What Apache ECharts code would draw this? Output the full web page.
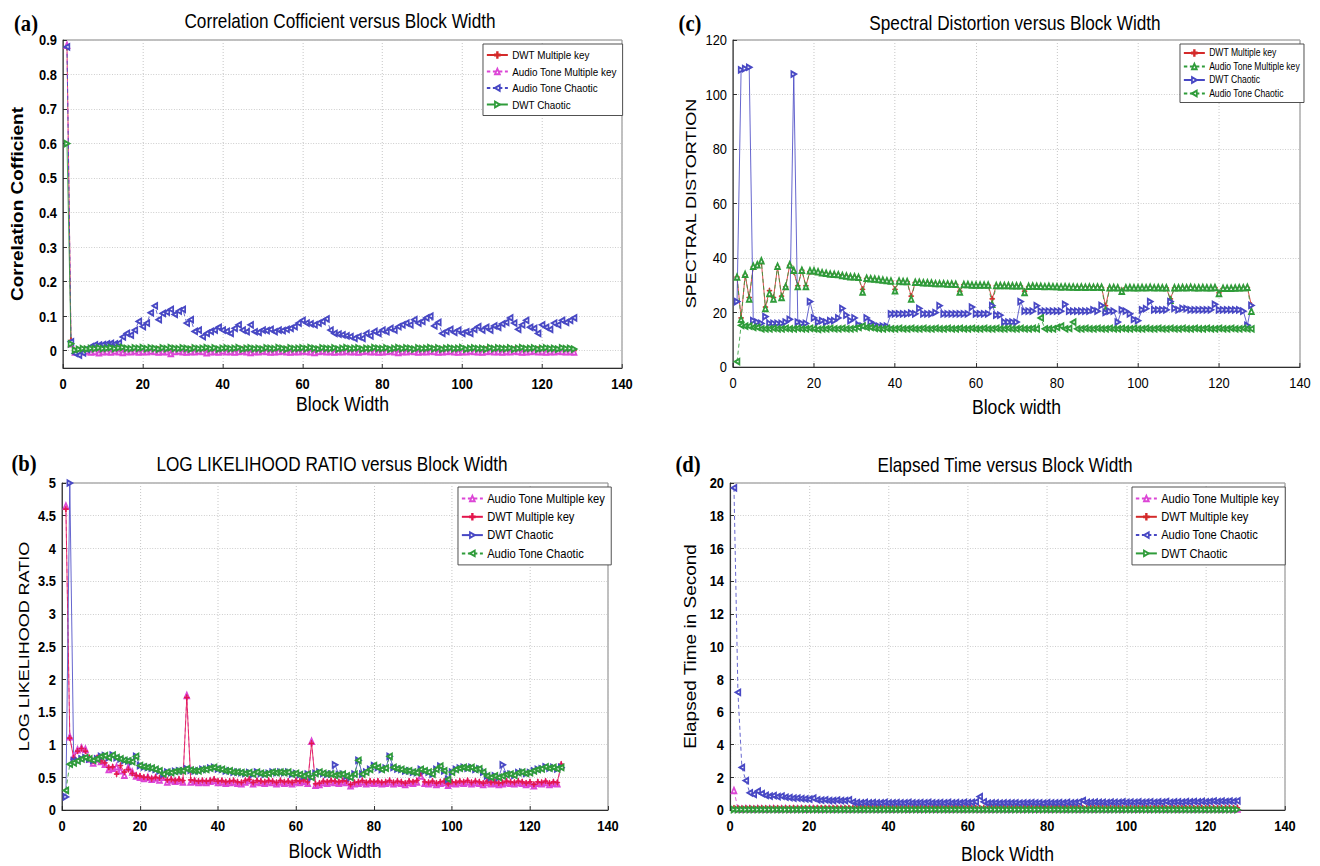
<!DOCTYPE html>
<html><head><meta charset="utf-8">
<script src="https://cdn.jsdelivr.net/npm/echarts@6/dist/echarts.min.js"></script>
<style>html,body{margin:0;padding:0;background:#fff;overflow:hidden;width:1320px;height:866px}
#c{width:1535px;height:866px;transform:scaleX(0.86);transform-origin:0 0}</style>
</head><body><div id="c"></div>
<script>
// ---------- categories / ticks ----------
const blockWidths = Array.from({length: 128}, (_, i) => i + 1);
const xTicks = [0, 20, 40, 60, 80, 100, 120, 140];
const yTicksA = [0, 0.1, 0.2, 0.3, 0.4, 0.5, 0.6, 0.7, 0.8, 0.9];

// ---------- (a) Correlation coefficient ----------
const corrDwtMultiKey = [0.88,0.03,0.000,0.002,0.003,0.001,0.004,0.002,0.003,0.001,
0.002,0.004,0.001,0.003,0.002,0.000,0.003,0.002,0.004,0.001,
0.002,0.003,0.001,0.004,0.002,0.000,0.003,0.002,0.001,0.003,
0.002,0.004,0.001,0.002,0.003,0.001,0.000,0.003,0.002,0.004,
0.001,0.002,0.003,0.001,0.004,0.002,0.000,0.003,0.001,0.002,
0.003,0.002,0.001,0.004,0.002,0.003,0.000,0.002,0.003,0.001,
0.004,0.002,0.001,0.003,0.002,0.000,0.003,0.004,0.001,0.002,
0.003,0.001,0.002,0.004,0.000,0.002,0.003,0.001,0.002,0.003,
0.004,0.001,0.002,0.000,0.003,0.002,0.004,0.001,0.002,0.003,
0.001,0.002,0.004,0.000,0.003,0.002,0.001,0.003,0.002,0.004,
0.001,0.003,0.002,0.000,0.002,0.004,0.001,0.003,0.002,0.001,
0.003,0.002,0.004,0.000,0.002,0.003,0.001,0.002,0.004,0.002,
0.001,0.003,0.002,0.000,0.003,0.002,0.001,0.000];
const corrAudioMultiKey = [0.885,0.02,-0.004,-0.002,-0.003,-0.001,-0.004,-0.002,-0.006,-0.003,
-0.002,-0.004,-0.001,-0.003,-0.005,-0.002,-0.003,-0.001,-0.004,-0.002,
-0.003,-0.001,-0.002,-0.004,-0.002,-0.003,-0.008,-0.002,-0.001,-0.003,
-0.004,-0.002,-0.003,-0.001,-0.002,-0.006,-0.003,-0.002,-0.004,-0.001,
-0.003,-0.002,-0.004,-0.002,-0.001,-0.003,-0.005,-0.002,-0.003,-0.001,
-0.002,-0.004,-0.003,-0.002,-0.001,-0.003,-0.004,-0.002,-0.003,-0.001,
-0.002,-0.003,-0.005,-0.002,-0.001,-0.003,-0.002,-0.004,-0.002,-0.003,
-0.001,-0.003,-0.002,-0.004,-0.002,-0.001,-0.003,-0.002,-0.004,-0.003,
-0.002,-0.001,-0.003,-0.005,-0.002,-0.003,-0.001,-0.002,-0.004,-0.002,
-0.003,-0.001,-0.002,-0.004,-0.003,-0.002,-0.001,-0.003,-0.004,-0.002,
-0.003,-0.001,-0.002,-0.003,-0.004,-0.002,-0.001,-0.003,-0.002,-0.004,
-0.002,-0.003,-0.001,-0.002,-0.004,-0.003,-0.002,-0.001,-0.003,-0.002,
-0.004,-0.002,-0.003,-0.001,-0.002,-0.003,-0.002,-0.004];
const corrAudioChaotic = [0.88,0.026,-0.008,-0.013,-0.006,0.004,0.012,0.017,0.016,0.018,
0.02,0.021,0.02,0.022,0.04,0.05,0.045,0.06,0.085,0.07,
0.08,0.11,0.13,0.09,0.108,0.112,0.12,0.105,0.115,0.12,
0.08,0.09,0.056,0.06,0.041,0.05,0.056,0.06,0.068,0.06,
0.056,0.05,0.065,0.075,0.06,0.055,0.075,0.055,0.053,0.06,
0.058,0.062,0.055,0.06,0.058,0.062,0.065,0.07,0.08,0.088,
0.08,0.078,0.075,0.08,0.085,0.092,0.06,0.05,0.048,0.046,
0.043,0.041,0.036,0.041,0.036,0.05,0.043,0.056,0.05,0.06,
0.055,0.065,0.06,0.07,0.075,0.08,0.075,0.09,0.08,0.085,
0.095,0.1,0.072,0.082,0.05,0.056,0.062,0.053,0.06,0.05,
0.055,0.05,0.062,0.07,0.06,0.068,0.06,0.072,0.068,0.078,
0.082,0.095,0.08,0.062,0.075,0.088,0.068,0.065,0.05,0.075,
0.068,0.062,0.08,0.075,0.088,0.082,0.088,0.095];
const corrDwtChaotic = [0.6,0.02,0.002,0.004,0.006,0.005,0.007,0.006,0.008,0.006,
0.007,0.009,0.006,0.008,0.01,0.007,0.006,0.008,0.007,0.009,
0.006,0.008,0.007,0.005,0.008,0.006,0.009,0.007,0.006,0.008,
0.007,0.005,0.008,0.006,0.007,0.009,0.006,0.008,0.005,0.007,
0.008,0.006,0.007,0.009,0.005,0.007,0.008,0.006,0.007,0.005,
0.008,0.007,0.006,0.009,0.007,0.005,0.008,0.006,0.007,0.008,
0.006,0.009,0.007,0.005,0.008,0.007,0.006,0.008,0.005,0.007,
0.009,0.006,0.007,0.008,0.005,0.007,0.006,0.009,0.007,0.006,
0.008,0.005,0.007,0.009,0.006,0.008,0.007,0.005,0.008,0.006,
0.007,0.009,0.006,0.008,0.005,0.007,0.008,0.006,0.007,0.009,
0.005,0.007,0.008,0.006,0.007,0.005,0.009,0.006,0.008,0.007,
0.006,0.008,0.005,0.007,0.009,0.006,0.007,0.008,0.005,0.007,
0.008,0.006,0.007,0.005,0.008,0.006,0.007,0.005];

// ---------- (c) Spectral distortion ----------
const sdDwtMultiKey = [33,18,33.7,25.5,36.7,37.3,38.5,22,28,25.5,
36.7,26,29.4,37.3,35,29.8,35.5,29.8,35,35,
34.8,34.5,34.3,34,34,33.8,33.5,33.3,33,33,
32.8,28.5,32.5,32.3,32.2,32,31.8,31.6,31.5,28.5,
31.5,31.3,31.3,26,31,31,30.8,30.8,30.7,30.5,
30.5,30.5,30.4,30.4,30.3,27.8,30.2,30.2,30,30,
30,30,30,25,29.8,29.8,29.8,29.8,29.7,29.7,
29.7,27.8,29.5,29.6,29.5,29.5,29.4,29.5,29.4,29.4,
29.3,29.4,29.3,29.3,29.2,29.3,29.2,29.3,29.2,29.3,
29.2,22.5,29,29.1,29,28,29,29.1,29,29,
29.1,29,29.2,29,29.1,29,29,25,29,29,
29.1,29,29.2,29,29,29.1,29,29,29.1,27.2,
28.8,28.8,28.8,28.9,29,29,29.2,22.6];
const sdAudioMultiKey = [33,17.5,34,25,37,37.5,39,21.5,27,25,
37,25.5,29.5,37.5,35.5,29.5,35.5,29.5,35.3,35.3,
35,34.6,34.4,34.1,34,33.9,33.6,33.4,33.1,33.1,
32.9,27.5,32.6,32.4,32.3,32.1,31.9,31.7,31.6,28,
31.6,31.4,31.4,25,31.1,31.1,30.9,30.9,30.8,30.6,
30.6,30.6,30.5,30.5,30.4,27.5,30.3,30.3,30.1,30.1,
30.1,30.1,30.1,23,29.9,29.9,29.9,29.9,29.8,29.8,
29.8,27.3,29.6,29.7,29.6,29.6,29.5,29.6,29.5,29.5,
29.4,29.5,29.4,29.4,29.3,29.4,29.3,29.4,29.3,29.4,
29.3,21,29.1,29.2,29.1,27.8,29.1,29.2,29.1,29.1,
29.2,29.1,29.3,29.1,29.2,29.1,29.1,24.5,29.1,29.1,
29.2,29.1,29.3,29.1,29.1,29.2,29.1,29.1,29.2,27,
28.9,28.9,28.9,29,29.1,29.1,29.3,20.5];
const sdDwtChaotic = [24,109,109.5,110,17,16.5,16,18.5,16,16,
16,16,16.5,17.5,107.5,16.5,16,16,24,18,
16.5,17,16.5,17,17,18,21.5,19,17,18,
15.5,15,18,16.5,15.5,15,15,15,19.5,19.5,
19.5,19.5,19.5,19.8,19.5,21.5,19.5,19.5,19.5,20,
22.5,19.5,19.5,19.5,19.5,19.5,19.5,19.5,22,19.5,
19.5,19.5,19.5,22.5,19,19,16.5,16.5,16.5,16.5,
24,20.5,20.5,20.5,22.5,20.5,20.5,20.5,20.5,20.5,
20.5,23,20.5,20.5,20.5,20.5,20.5,20.5,21,20.5,
22.6,20,20.5,20.5,16.5,21,20.5,19.5,17.5,17,
21,21.4,24,21,21,21,21,24,21.5,21,
21.5,21.4,21,21,21,21,21,21,23,21,
21,21,21,21,21,20.5,15.3,22.6];
const sdAudioChaotic = [2,15.3,15,15,14.5,14.5,14,14,14,14.2,
14,14,14.2,14,14,14.2,14,14,14.2,14,
13.8,14,14,14.2,14,14,14.2,14,14,14.2,
14.5,15,14.5,14.5,14.2,14,14,14.2,14,14,
14.2,14,14,14.2,14,14,14.2,14,14,14.2,
14,14,14.2,14,14,14.2,14,14,14.2,14,
14,14.2,14,14,14.2,14,14,14.2,14,14,
14.2,14,14,14.2,14,18,14,14,14,14.5,
15,14,14.2,16.5,14,14,14.2,14,14,14.2,
14,14,14.2,14,14,14.2,14,14,14.2,14,
14,14.2,14,14,14.2,14,14,14.2,14,14,
14.2,14,14,14.2,14,14,14.2,14,14,14.2,
14,14,14.2,14,14,14.2,14,14];

// ---------- (b) Log likelihood ratio ----------
const llrAudioMultiKey = [4.65,1.12,0.82,0.92,0.95,0.93,0.78,0.72,0.78,0.74,
0.7,0.62,0.64,0.66,0.6,0.53,0.65,0.58,0.52,0.5,
0.48,0.5,0.47,0.49,0.46,0.5,0.43,0.46,0.44,0.45,
0.43,1.75,0.43,0.44,0.42,0.43,0.42,0.44,0.45,0.42,
0.43,0.41,0.42,0.43,0.41,0.4,0.43,0.45,0.4,0.43,
0.42,0.41,0.43,0.42,0.4,0.43,0.41,0.42,0.4,0.43,
0.42,0.44,0.41,1.05,0.38,0.39,0.42,0.41,0.43,0.42,
0.41,0.43,0.42,0.37,0.4,0.41,0.43,0.4,0.42,0.41,
0.42,0.4,0.41,0.43,0.4,0.42,0.41,0.39,0.42,0.41,
0.43,0.52,0.41,0.4,0.42,0.39,0.41,0.42,0.38,0.41,
0.4,0.42,0.41,0.43,0.4,0.42,0.41,0.39,0.42,0.4,
0.41,0.39,0.4,0.42,0.41,0.4,0.42,0.41,0.39,0.41,
0.37,0.41,0.4,0.42,0.39,0.41,0.4,0.68];
const llrDwtMultiKey = [4.6,1.1,0.8,0.9,0.94,0.9,0.8,0.75,0.8,0.75,
0.72,0.65,0.66,0.55,0.68,0.58,0.62,0.56,0.53,0.52,
0.5,0.5,0.48,0.5,0.49,0.52,0.46,0.47,0.45,0.47,
0.45,1.72,0.46,0.45,0.44,0.45,0.44,0.45,0.47,0.44,
0.45,0.43,0.44,0.45,0.43,0.42,0.45,0.47,0.42,0.45,
0.44,0.43,0.45,0.44,0.42,0.45,0.43,0.44,0.42,0.45,
0.44,0.46,0.43,1.02,0.4,0.41,0.44,0.43,0.45,0.44,
0.43,0.45,0.44,0.39,0.42,0.43,0.45,0.42,0.44,0.43,
0.44,0.42,0.43,0.45,0.42,0.44,0.43,0.41,0.44,0.43,
0.45,0.56,0.43,0.42,0.44,0.41,0.43,0.44,0.4,0.43,
0.42,0.44,0.43,0.45,0.42,0.44,0.43,0.41,0.44,0.42,
0.43,0.41,0.42,0.44,0.43,0.42,0.44,0.43,0.41,0.43,
0.39,0.43,0.42,0.44,0.41,0.43,0.42,0.7];
const llrDwtChaotic = [0.2,5.0,0.75,0.75,0.78,0.8,0.78,0.76,0.78,0.82,
0.83,0.8,0.84,0.8,0.78,0.76,0.75,0.74,0.82,0.68,
0.66,0.65,0.64,0.62,0.6,0.55,0.58,0.57,0.59,0.6,
0.6,0.63,0.61,0.6,0.6,0.62,0.62,0.64,0.65,0.63,
0.62,0.6,0.6,0.58,0.58,0.57,0.56,0.57,0.55,0.58,
0.56,0.55,0.56,0.58,0.57,0.58,0.57,0.58,0.55,0.56,
0.54,0.52,0.55,0.5,0.56,0.58,0.56,0.55,0.55,0.69,
0.54,0.55,0.52,0.5,0.55,0.76,0.55,0.58,0.62,0.68,
0.65,0.62,0.64,0.82,0.65,0.63,0.62,0.6,0.6,0.58,
0.57,0.62,0.6,0.58,0.55,0.62,0.67,0.6,0.47,0.58,
0.62,0.64,0.65,0.64,0.65,0.62,0.63,0.58,0.52,0.5,
0.52,0.5,0.69,0.54,0.55,0.53,0.57,0.58,0.56,0.57,
0.6,0.62,0.63,0.66,0.64,0.65,0.63,0.65];
const llrAudioChaotic = [0.3,0.7,0.72,0.75,0.78,0.8,0.78,0.76,0.78,0.82,
0.83,0.8,0.84,0.8,0.78,0.76,0.75,0.74,0.82,0.68,
0.66,0.65,0.64,0.62,0.6,0.55,0.58,0.57,0.59,0.6,
0.6,0.63,0.61,0.6,0.6,0.62,0.62,0.64,0.65,0.63,
0.62,0.6,0.6,0.58,0.58,0.57,0.56,0.57,0.55,0.58,
0.56,0.55,0.56,0.58,0.57,0.58,0.57,0.58,0.55,0.56,
0.54,0.52,0.55,0.5,0.56,0.58,0.56,0.55,0.55,0.53,
0.54,0.55,0.52,0.5,0.55,0.76,0.55,0.58,0.62,0.68,
0.65,0.62,0.64,0.82,0.65,0.63,0.62,0.6,0.6,0.58,
0.57,0.62,0.6,0.58,0.55,0.62,0.67,0.6,0.47,0.58,
0.62,0.64,0.65,0.64,0.65,0.62,0.63,0.58,0.52,0.5,
0.52,0.5,0.52,0.54,0.55,0.53,0.57,0.58,0.56,0.57,
0.6,0.62,0.63,0.66,0.64,0.65,0.63,0.65];

// ---------- (d) Elapsed time ----------
const etAudioMultiKey = [1.2,0.06,0.05,0.07,0.06,0.05,0.07,0.06,0.05,0.06,
0.07,0.05,0.06,0.07,0.05,0.06,0.06,0.07,0.05,0.06,
0.07,0.06,0.05,0.06,0.07,0.05,0.06,0.07,0.06,0.05,
0.06,0.07,0.05,0.06,0.06,0.07,0.05,0.06,0.07,0.06,
0.05,0.06,0.07,0.06,0.05,0.07,0.06,0.05,0.06,0.07,
0.06,0.05,0.07,0.06,0.06,0.05,0.07,0.06,0.05,0.06,
0.07,0.06,0.05,0.06,0.07,0.05,0.06,0.07,0.06,0.05,
0.06,0.07,0.06,0.05,0.07,0.06,0.05,0.06,0.07,0.06,
0.05,0.07,0.06,0.06,0.05,0.07,0.06,0.05,0.06,0.07,
0.06,0.05,0.07,0.06,0.05,0.06,0.07,0.06,0.05,0.07,
0.06,0.05,0.06,0.07,0.06,0.05,0.07,0.06,0.06,0.05,
0.07,0.06,0.05,0.06,0.07,0.06,0.05,0.07,0.06,0.05,
0.06,0.07,0.06,0.05,0.07,0.06,0.05,0.06];
const etDwtMultiKey = [0.12,0.1,0.09,0.1,0.11,0.09,0.1,0.11,0.1,0.09,
0.1,0.11,0.09,0.1,0.1,0.11,0.09,0.1,0.11,0.1,
0.09,0.1,0.11,0.1,0.09,0.11,0.1,0.09,0.1,0.11,
0.1,0.09,0.11,0.1,0.1,0.09,0.11,0.1,0.09,0.1,
0.11,0.1,0.09,0.1,0.11,0.09,0.1,0.11,0.1,0.09,
0.1,0.11,0.1,0.09,0.11,0.1,0.1,0.09,0.11,0.1,
0.09,0.1,0.11,0.1,0.09,0.11,0.1,0.1,0.11,0.09,
0.1,0.11,0.1,0.11,0.1,0.12,0.1,0.11,0.12,0.1,
0.11,0.12,0.11,0.1,0.12,0.11,0.1,0.12,0.11,0.12,
0.1,0.12,0.11,0.12,0.1,0.11,0.12,0.11,0.12,0.1,
0.12,0.11,0.12,0.11,0.13,0.11,0.12,0.11,0.13,0.12,
0.11,0.12,0.13,0.11,0.12,0.13,0.12,0.11,0.13,0.12,
0.13,0.12,0.11,0.13,0.12,0.13,0.12,0.13];
const etAudioChaotic = [19.7,7.2,2.6,1.8,1.05,0.95,1.15,1.0,0.9,0.85,
0.88,0.82,0.85,0.78,0.76,0.72,0.73,0.7,0.68,0.66,
0.72,0.62,0.6,0.62,0.58,0.58,0.6,0.57,0.58,0.62,
0.48,0.45,0.44,0.46,0.44,0.45,0.43,0.44,0.46,0.43,
0.44,0.45,0.43,0.44,0.46,0.44,0.43,0.45,0.44,0.46,
0.44,0.43,0.45,0.44,0.46,0.44,0.45,0.43,0.46,0.45,
0.47,0.5,0.82,0.5,0.42,0.43,0.44,0.42,0.43,0.44,
0.43,0.44,0.42,0.44,0.43,0.45,0.43,0.44,0.42,0.45,
0.44,0.43,0.45,0.44,0.46,0.44,0.45,0.48,0.58,0.47,
0.46,0.48,0.46,0.47,0.45,0.48,0.46,0.47,0.49,0.46,
0.48,0.47,0.49,0.46,0.48,0.5,0.47,0.49,0.48,0.52,
0.47,0.49,0.5,0.48,0.51,0.49,0.52,0.5,0.53,0.5,
0.52,0.55,0.51,0.54,0.52,0.55,0.53,0.56];
const etDwtChaotic = [0.03,0.02,0.03,0.02,0.03,0.03,0.02,0.03,0.02,0.03,
0.02,0.03,0.03,0.02,0.03,0.02,0.03,0.02,0.03,0.03,
0.02,0.03,0.02,0.03,0.02,0.03,0.03,0.02,0.03,0.02,
0.03,0.02,0.03,0.03,0.02,0.03,0.02,0.03,0.02,0.03,
0.03,0.02,0.03,0.02,0.03,0.02,0.03,0.03,0.02,0.03,
0.02,0.03,0.02,0.03,0.03,0.02,0.03,0.02,0.03,0.02,
0.03,0.03,0.02,0.03,0.02,0.03,0.02,0.03,0.03,0.02,
0.03,0.02,0.03,0.02,0.03,0.03,0.02,0.03,0.02,0.03,
0.02,0.03,0.03,0.02,0.03,0.02,0.03,0.02,0.03,0.03,
0.02,0.03,0.02,0.03,0.02,0.03,0.03,0.02,0.03,0.02,
0.03,0.02,0.03,0.03,0.02,0.03,0.02,0.03,0.02,0.03,
0.03,0.02,0.03,0.02,0.03,0.02,0.03,0.03,0.02,0.03,
0.02,0.03,0.02,0.03,0.03,0.02,0.03,0.02];

// ---------- styling ----------
// the whole figure is drawn horizontally condensed (CSS scaleX 0.86), like the source image
const S = 0.86;
const X = v => v / S;
const SANS = "'Liberation Sans',Arial,sans-serif";
const SERIF = "'Liberation Serif','Times New Roman',serif";
const RED = '#d42a2a', CRIMSON = '#e3154c', MAG = '#dc46d6', BLUE = '#4848c4', GREEN = '#2f9c3a';
const PLUS = 'path://M4.3,0H5.7V4.3H10V5.7H5.7V10H4.3V5.7H0V4.3H4.3Z';

function mk(panel, name, vals, gi, color, sym, rot, dashed) {
  return {
    type: 'line', name: panel + '|' + name, xAxisIndex: gi, yAxisIndex: gi,
    data: vals.map((v, i) => [blockWidths[i], v]),
    symbol: sym, symbolSize: 5.5, symbolRotate: rot || 0, showAllSymbol: true,
    lineStyle: {color: color, width: 0.9, type: dashed ? [4, 3] : 'solid'},
    itemStyle: {color: color, borderColor: color, borderWidth: 0.9},
    emphasis: {disabled: true}, animation: false, z: 2
  };
}
const UP = 'emptyTriangle';
const series = [
  mk('a', 'DWT Multiple key', corrDwtMultiKey, 0, RED, PLUS, 0, false),
  mk('a', 'Audio Tone Multiple key', corrAudioMultiKey, 0, MAG, UP, 0, true),
  mk('a', 'Audio Tone Chaotic', corrAudioChaotic, 0, BLUE, UP, 90, true),
  mk('a', 'DWT Chaotic', corrDwtChaotic, 0, GREEN, UP, -90, false),
  mk('c', 'DWT Multiple key', sdDwtMultiKey, 1, RED, PLUS, 0, false),
  mk('c', 'Audio Tone Multiple key', sdAudioMultiKey, 1, GREEN, UP, 0, true),
  mk('c', 'DWT Chaotic', sdDwtChaotic, 1, BLUE, UP, -90, false),
  mk('c', 'Audio Tone Chaotic', sdAudioChaotic, 1, GREEN, UP, 90, true),
  mk('b', 'Audio Tone Multiple key', llrAudioMultiKey, 2, MAG, UP, 0, true),
  mk('b', 'DWT Multiple key', llrDwtMultiKey, 2, CRIMSON, PLUS, 0, false),
  mk('b', 'DWT Chaotic', llrDwtChaotic, 2, BLUE, UP, -90, false),
  mk('b', 'Audio Tone Chaotic', llrAudioChaotic, 2, GREEN, UP, 90, true),
  mk('d', 'Audio Tone Multiple key', etAudioMultiKey, 3, MAG, UP, 0, true),
  mk('d', 'DWT Multiple key', etDwtMultiKey, 3, RED, PLUS, 0, false),
  mk('d', 'Audio Tone Chaotic', etAudioChaotic, 3, BLUE, UP, 90, true),
  mk('d', 'DWT Chaotic', etDwtChaotic, 3, GREEN, UP, -90, false)
];

const grids = [
  {left: X(63), top: 40, width: X(559), height: 328},
  {left: X(733), top: 40, width: X(567), height: 327},
  {left: X(62), top: 483, width: X(546), height: 327},
  {left: X(730), top: 483, width: X(555), height: 328}
].map(g => Object.assign(g, {show: true, borderColor: '#777', borderWidth: 1, backgroundColor: '#fff'}));

const split = {show: true, lineStyle: {color: '#c2c2c2', type: [1, 2], width: 1}};
function tickLab(bold) { return {fontFamily: SANS, fontSize: 15, color: '#000', fontWeight: bold ? 'bold' : 'normal'}; }
function xAx(gi, name, gap, bold) {
  return {gridIndex: gi, type: 'value', min: 0, max: 140, interval: 20,
    name: name, nameLocation: 'middle', nameGap: gap,
    nameTextStyle: {fontFamily: SANS, fontSize: 20.5, color: '#000'},
    axisLine: {onZero: false, lineStyle: {color: '#222'}},
    axisTick: {inside: true, length: 4, lineStyle: {color: '#222'}},
    axisLabel: Object.assign({margin: 8}, tickLab(bold)), splitLine: split};
}
function yAx(gi, name, gap, min, max, interval, nameFont, bold) {
  const o = {gridIndex: gi, type: 'value', min: min, max: max,
    name: name, nameLocation: 'middle', nameGap: X(gap),
    nameTextStyle: nameFont,
    axisLine: {onZero: false, lineStyle: {color: '#222'}},
    axisTick: {inside: true, length: X(4), lineStyle: {color: '#222'}},
    axisLabel: Object.assign({margin: X(6)}, tickLab(bold)), splitLine: split};
  if (interval) o.interval = interval;
  return o;
}
const yA = yAx(0, 'Correlation Cofficient', 37, -0.05, 0.9, null, {fontFamily: SANS, fontSize: 19, fontWeight: 'bold', color: '#000'}, true);
yA.axisLabel.customValues = yTicksA;
yA.axisTick.customValues = yTicksA;

const legendBase = {orient: 'vertical', backgroundColor: '#fff', borderColor: '#444', borderWidth: 1,
  itemWidth: X(21), itemHeight: 7, formatter: n => n.split('|')[1], selectedMode: false};
function lg(panel, names, left, top, fs, gap, pad) {
  return Object.assign({}, legendBase, {left: X(left), top: top, itemGap: gap, padding: pad,
    data: names.map(n => panel + '|' + n), textStyle: {fontFamily: SANS, fontSize: fs, color: '#000'}});
}
function txt(x, y, text, size, family, weight) {
  return {type: 'text', x: X(x), y: y, style: {text: text, fontFamily: family, fontSize: size,
    fontWeight: weight || 'normal', fill: '#000', textAlign: 'center', textVerticalAlign: 'middle'}};
}

const option = {
  backgroundColor: '#fff',
  animation: false,
  grid: grids,
  xAxis: [xAx(0, 'Block Width', 26, true), xAx(1, 'Block width', 30, false), xAx(2, 'Block Width', 31, true), xAx(3, 'Block Width', 34, true)],
  yAxis: [yA,
    yAx(1, 'SPECTRAL DISTORTION', 34, 0, 120, 20, {fontFamily: SANS, fontSize: 18, color: '#000'}, false),
    yAx(2, 'LOG LIKELIHOOD RATIO', 30, 0, 5, 0.5, {fontFamily: SANS, fontSize: 18, color: '#000'}, true),
    yAx(3, 'Elapsed Time in Second', 31, 0, 20, 2, {fontFamily: SANS, fontSize: 19, color: '#000'}, true)],
  legend: [
    lg('a', ['DWT Multiple key', 'Audio Tone Multiple key', 'Audio Tone Chaotic', 'DWT Chaotic'], 483, 44, 11.5, 4.5, [5, X(6), 5, X(3)]),
    lg('c', ['DWT Multiple key', 'Audio Tone Multiple key', 'DWT Chaotic', 'Audio Tone Chaotic'], 1180, 44, 10, 3.5, [4, X(4), 4, X(3)]),
    lg('b', ['Audio Tone Multiple key', 'DWT Multiple key', 'DWT Chaotic', 'Audio Tone Chaotic'], 458, 487, 13, 5.3, [5, X(6), 5, X(3)]),
    lg('d', ['Audio Tone Multiple key', 'DWT Multiple key', 'Audio Tone Chaotic', 'DWT Chaotic'], 1132, 487, 13, 5.3, [5, X(6), 5, X(3)])
  ],
  graphic: [
    txt(340, 21, 'Correlation Cofficient versus Block Width', 20, SANS),
    txt(1015, 23, 'Spectral Distortion versus Block Width', 20, SANS),
    txt(332, 464, 'LOG LIKELIHOOD RATIO versus Block Width', 20, SANS),
    txt(1005, 465, 'Elapsed Time versus Block Width', 20, SANS),
    txt(26, 23, '(a)', 24, SERIF, 'bold'),
    txt(690, 23, '(c)', 24, SERIF, 'bold'),
    txt(24, 463, '(b)', 24, SERIF, 'bold'),
    txt(688, 464, '(d)', 24, SERIF, 'bold')
  ],
  series: series
};

const chart = echarts.init(document.getElementById('c'), null, {renderer: 'svg', width: X(1320), height: 866});
chart.setOption(option);
</script>
</body></html>
